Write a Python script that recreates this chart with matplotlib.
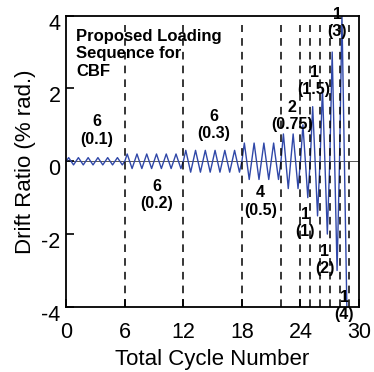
import numpy as np
import matplotlib.pyplot as plt
from matplotlib.transforms import ScaledTranslation

plt.rcParams['font.family'] = ['Liberation Sans', 'DejaVu Sans']
plt.rcParams['axes.unicode_minus'] = False

# loading protocol: number of cycles and drift amplitude (% rad.)
cycles = [6, 6, 6, 4, 2, 1, 1, 1, 1, 1]
amps = [0.1, 0.2, 0.3, 0.5, 0.75, 1, 1.5, 2, 3, 4]
count_labels = ['6', '6', '6', '4', '2', '1', '1', '1', '1', '1']
amp_labels = ['(0.1)', '(0.2)', '(0.3)', '(0.5)', '(0.75)', '(1)', '(1.5)', '(2)', '(3)', '(4)']

# where each stage label sits
label_x = [3.15, 9.3, 15.1, 19.9, 23.1, 24.5, 25.4, 26.5, 27.75, 28.5]
label_y = [0.85, -0.93, 1.0, -1.1, 1.25, -1.7, 2.2, -2.72, 3.8, -3.98]

# peaks of the triangular history: 0, +a, 0, -a for each cycle
x = [0.0]
y = [0.0]
t = 0.0
for n, a in zip(cycles, amps):
    for k in range(n):
        x += [t + 0.25, t + 0.5, t + 0.75, t + 1.0]
        y += [a, 0.0, -a, 0.0]
        t += 1.0
x = x[:-1]
y = y[:-1]
bounds = np.cumsum(cycles)

fig = plt.figure(figsize=(3.74, 3.72), dpi=100)
ax = fig.add_axes([0.177, 0.175, 0.783, 0.783])

ax.axhline(0, color='#555555', lw=0.7, zorder=1)
ax.plot(x, y, color='#3048a8', lw=1.0, zorder=2)
for b in bounds:
    ax.plot([b, b], [-4, 3.75], color='black', lw=1.1, dashes=(5, 4), zorder=3)

for lx, ly, c, a in zip(label_x, label_y, count_labels, amp_labels):
    ax.text(lx, ly, c + '\n' + a, ha='center', va='center', fontsize=11.5,
            fontweight='bold', linespacing=1.2, zorder=4)

ax.text(0.035, 0.955, 'Proposed Loading\nSequence for\nCBF', transform=ax.transAxes,
        ha='left', va='top', fontsize=12, fontweight='bold', linespacing=1.2)

ax.set_xlim(0, 30)
ax.set_ylim(-4, 4)
ax.set_xticks([0, 6, 12, 18, 24, 30])
ax.set_yticks([-4, -2, 0, 2, 4])
ax.tick_params(direction='in', length=6, width=1.2, labelsize=15.5)
ax.tick_params(axis='x', pad=11)
ax.tick_params(axis='y', pad=4)
for s in ax.spines.values():
    s.set_linewidth(1.3)

for lab in ax.get_yticklabels():
    lab.set_transform(lab.get_transform() + ScaledTranslation(0, -0.06, fig.dpi_scale_trans))

ax.set_xlabel('Total Cycle Number', fontsize=16, labelpad=4)
ax.set_ylabel('Drift Ratio (% rad.)', fontsize=16, labelpad=4)

fig.savefig('out.png', dpi=100)
